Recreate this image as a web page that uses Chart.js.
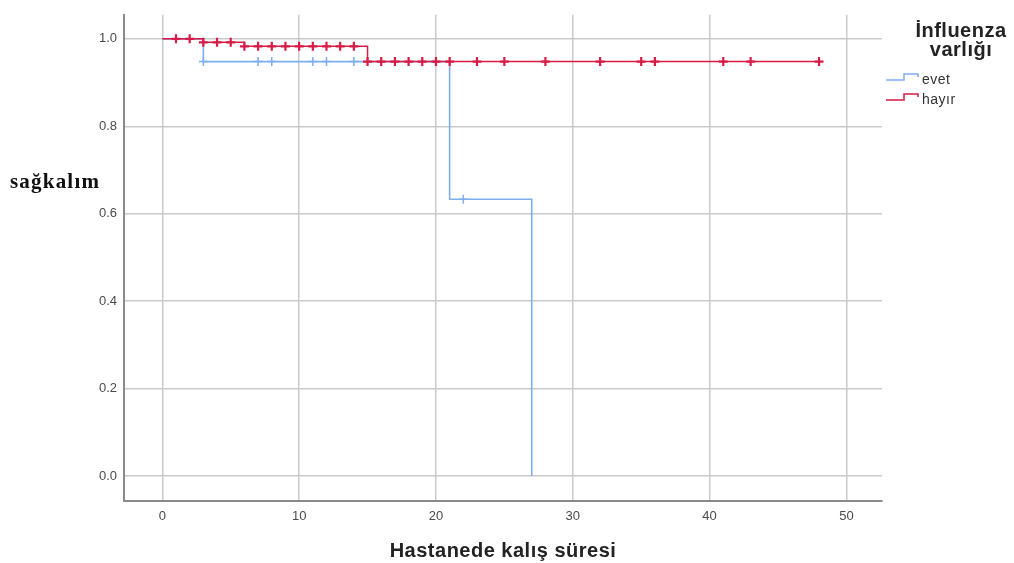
<!DOCTYPE html>
<html>
<head>
<meta charset="utf-8">
<script src="https://cdn.jsdelivr.net/npm/chart.js@4.4.0/dist/chart.umd.min.js"></script>
<style>
    html, body { margin: 0; padding: 0; background: #fff; }
    canvas { display: block; }
</style>
</head>
<body>
<canvas id="km" width="1014" height="563"></canvas>
<script>
// event times and survival levels (step curve)
const evetTimes = [0, 3, 21, 27];
const evetSurv = [1.0, 0.948, 0.633, 0.0];
const evetCensored = [3, 7, 8, 11, 12, 14, 22];

const hayirTimes = [0, 3, 6, 15, 48];
const hayirSurv = [1.0, 0.992, 0.983, 0.948, 0.948];
const hayirCensored = [1, 2, 3, 4, 5, 6, 7, 8, 9, 10, 11, 12, 13, 14, 15, 16, 17, 18, 19, 20, 21, 23, 25, 28, 32, 35, 36, 41, 43, 48];

const xTicks = [0, 10, 20, 30, 40, 50];
const yTicks = [0.0, 0.2, 0.4, 0.6, 0.8, 1.0];

const groupLabels = ['evet', 'hayır'];
const BLUE = '#7eaeee';
const RED = '#d81b45';

function curve(times, surv) {
    return times.map((t, i) => ({x: t, y: surv[i]}));
}

// survival level at a censoring time = last step at or before it
function censorPoints(times, surv, censored) {
    return censored.map(function (c) {
        let y = surv[0];
        times.forEach(function (t, i) {
            if (t <= c) y = surv[i];
        });
        return {x: c, y: y};
    });
}

const extraText = {
    id: 'extraText',
    afterDraw(chart) {
        const ctx = chart.ctx;
        const area = chart.chartArea;
        ctx.save();

        // y title, horizontal
        ctx.fillStyle = '#111';
        ctx.font = 'bold 21px "Liberation Serif", serif';
        ctx.letterSpacing = '1.2px';
        ctx.textAlign = 'left';
        ctx.textBaseline = 'alphabetic';
        ctx.fillText('sağkalım', 10, 188);

        // x title
        ctx.fillStyle = '#222';
        ctx.font = 'bold 20px "Liberation Sans", Arial, sans-serif';
        ctx.letterSpacing = '0.5px';
        ctx.textAlign = 'center';
        ctx.textBaseline = 'middle';
        ctx.fillText('Hastanede kalış süresi', (area.left + area.right) / 2, 551);

        // legend
        ctx.font = 'bold 20px "Liberation Sans", Arial, sans-serif';
        ctx.letterSpacing = '0.5px';
        ctx.fillStyle = '#222';
        ctx.fillText('İnfluenza', 961, 31);
        ctx.fillText('varlığı', 961, 50);

        const colors = [BLUE, RED];
        const rows = [80, 100];
        ctx.lineWidth = 1.5;
        ctx.letterSpacing = '0.5px';
        groupLabels.forEach(function (lab, i) {
            const y = rows[i];
            ctx.strokeStyle = colors[i];
            ctx.beginPath();
            ctx.moveTo(886, y);
            ctx.lineTo(904, y);
            ctx.lineTo(904, y - 6);
            ctx.lineTo(918, y - 6);
            ctx.lineTo(918, y - 3);
            ctx.stroke();
            ctx.fillStyle = '#333';
            ctx.font = '14px "Liberation Sans", Arial, sans-serif';
            ctx.textAlign = 'left';
            ctx.fillText(lab, 922, y);
        });
        ctx.restore();
    }
};

new Chart(document.getElementById('km'), {
    type: 'scatter',
    data: {
        datasets: [
            {
                label: 'hayır',
                data: curve(hayirTimes, hayirSurv),
                showLine: true,
                stepped: 'before',
                borderColor: RED,
                borderWidth: 1.5,
                pointRadius: 0
            },
            {
                label: 'hayır censored',
                data: censorPoints(hayirTimes, hayirSurv, hayirCensored),
                pointStyle: 'cross',
                pointRadius: 4.5,
                pointBorderWidth: 2.2,
                borderColor: RED,
                backgroundColor: RED
            },
            {
                label: 'evet',
                data: curve(evetTimes, evetSurv),
                showLine: true,
                stepped: 'before',
                borderColor: BLUE,
                borderWidth: 1.6,
                pointRadius: 0
            },
            {
                label: 'evet censored',
                data: censorPoints(evetTimes, evetSurv, evetCensored),
                pointStyle: 'cross',
                pointRadius: 4.5,
                pointBorderWidth: 1.5,
                borderColor: BLUE,
                backgroundColor: BLUE
            }
        ]
    },
    options: {
        responsive: false,
        animation: false,
        layout: {
            padding: {top: 12, right: 132, left: 0, bottom: 0}
        },
        plugins: {
            legend: {display: false},
            tooltip: {enabled: false}
        },
        scales: {
            x: {
                type: 'linear',
                min: -2.8,
                max: 52.6,
                afterBuildTicks: function (scale) {
                    scale.ticks = xTicks.map(v => ({value: v}));
                },
                afterFit: function (scale) {
                    scale.height = 62;
                },
                ticks: {
                    padding: 8,
                    color: '#4a4a4a',
                    font: {size: 13, family: '"Liberation Sans", Arial, sans-serif'},
                    callback: v => String(v)
                },
                grid: {color: '#cacaca', lineWidth: 1.5, drawTicks: false},
                border: {color: '#8a8a8a', width: 2}
            },
            y: {
                type: 'linear',
                min: -0.057,
                max: 1.055,
                afterBuildTicks: function (scale) {
                    scale.ticks = yTicks.map(v => ({value: v}));
                },
                afterFit: function (scale) {
                    scale.width = 124;
                },
                ticks: {
                    padding: 7,
                    color: '#4a4a4a',
                    font: {size: 13, family: '"Liberation Sans", Arial, sans-serif'},
                    callback: v => v.toFixed(1)
                },
                grid: {color: '#cacaca', lineWidth: 1.5, drawTicks: false},
                border: {color: '#8a8a8a', width: 2}
            }
        }
    },
    plugins: [extraText]
});
</script>
</body>
</html>
